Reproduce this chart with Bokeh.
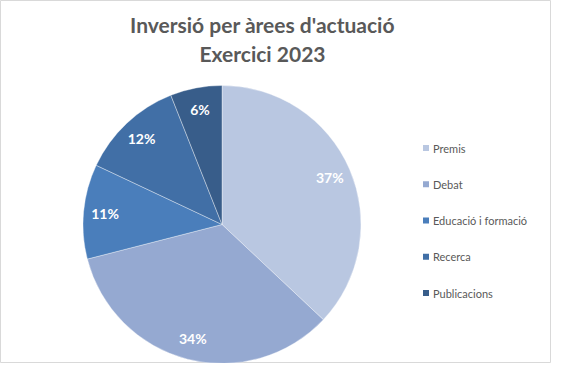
import math
from bokeh.plotting import figure
from bokeh.models import Range1d, ColumnDataSource
from bokeh.core.properties import value
from bokeh.embed import file_html
from bokeh.resources import INLINE

categories = ["Premis", "Debat", "Educació i formació", "Recerca", "Publicacions"]
shares = [37, 34, 11, 12, 6]
colors = ["#B9C7E1", "#95A9D1", "#4A7EBB", "#416FA6", "#385D8A"]
title_lines = ["Inversió per àrees d'actuació", "Exercici 2023"]

W, H = 551, 363
cx, cy, R = 221.5, H - 224.0, 139.0
label_ratio = 0.845

total = float(sum(shares))
starts, ends, lx, ly, labels = [], [], [], [], []
cum = 0.0
for s in shares:
    a0 = math.pi / 2 - 2 * math.pi * cum / total
    a1 = math.pi / 2 - 2 * math.pi * (cum + s) / total
    mid = (a0 + a1) / 2
    starts.append(a0)
    ends.append(a1)
    lx.append(cx + label_ratio * R * math.cos(mid))
    ly.append(cy + label_ratio * R * math.sin(mid))
    labels.append(f"{round(100 * s / total)}%")
    cum += s

src = ColumnDataSource(dict(cat=categories, start=starts, end=ends, color=colors,
                            lx=lx, ly=ly, label=labels))

p = figure(width=W, height=H, output_backend="svg", toolbar_location=None,
           x_range=Range1d(0, W), y_range=Range1d(0, H), min_border=0)
p.axis.visible = False
p.grid.visible = False
p.outline_line_color = "#D9D9D9"
p.background_fill_color = "white"

p.wedge(x=cx, y=cy, radius=R, start_angle="start", end_angle="end", direction="clock",
        fill_color="color", line_color="white", line_width=0.6, line_alpha=0.6, source=src)

p.text(x="lx", y="ly", text="label", source=src, text_color="white",
       text_font=value("Lato"), text_font_style="bold", text_font_size="14px",
       text_align="center", text_baseline="middle")

# title
title_x = 262
title_y = [H - 24, H - 53]
p.text(x=[title_x] * 2, y=title_y, text=title_lines, text_color="#595959",
       text_font=value("Lato"), text_font_style="bold", text_font_size="21px",
       text_align="center", text_baseline="alphabetic")

# legend
leg_sq_x = 425.5
leg_txt_x = 432.5
leg_top = H - 147.5
leg_step = 36.25
leg_y = [leg_top - i * leg_step for i in range(len(categories))]
p.scatter(x=[leg_sq_x] * len(categories), y=leg_y, marker="square", size=6,
          fill_color=colors, line_color=None)
p.text(x=[leg_txt_x] * len(categories), y=leg_y, text=categories, text_color="#595959",
       text_font=value("Lato"), text_font_size="11px",
       text_align="left", text_baseline="middle")

open("out.html", "w").write(file_html(p, INLINE))
